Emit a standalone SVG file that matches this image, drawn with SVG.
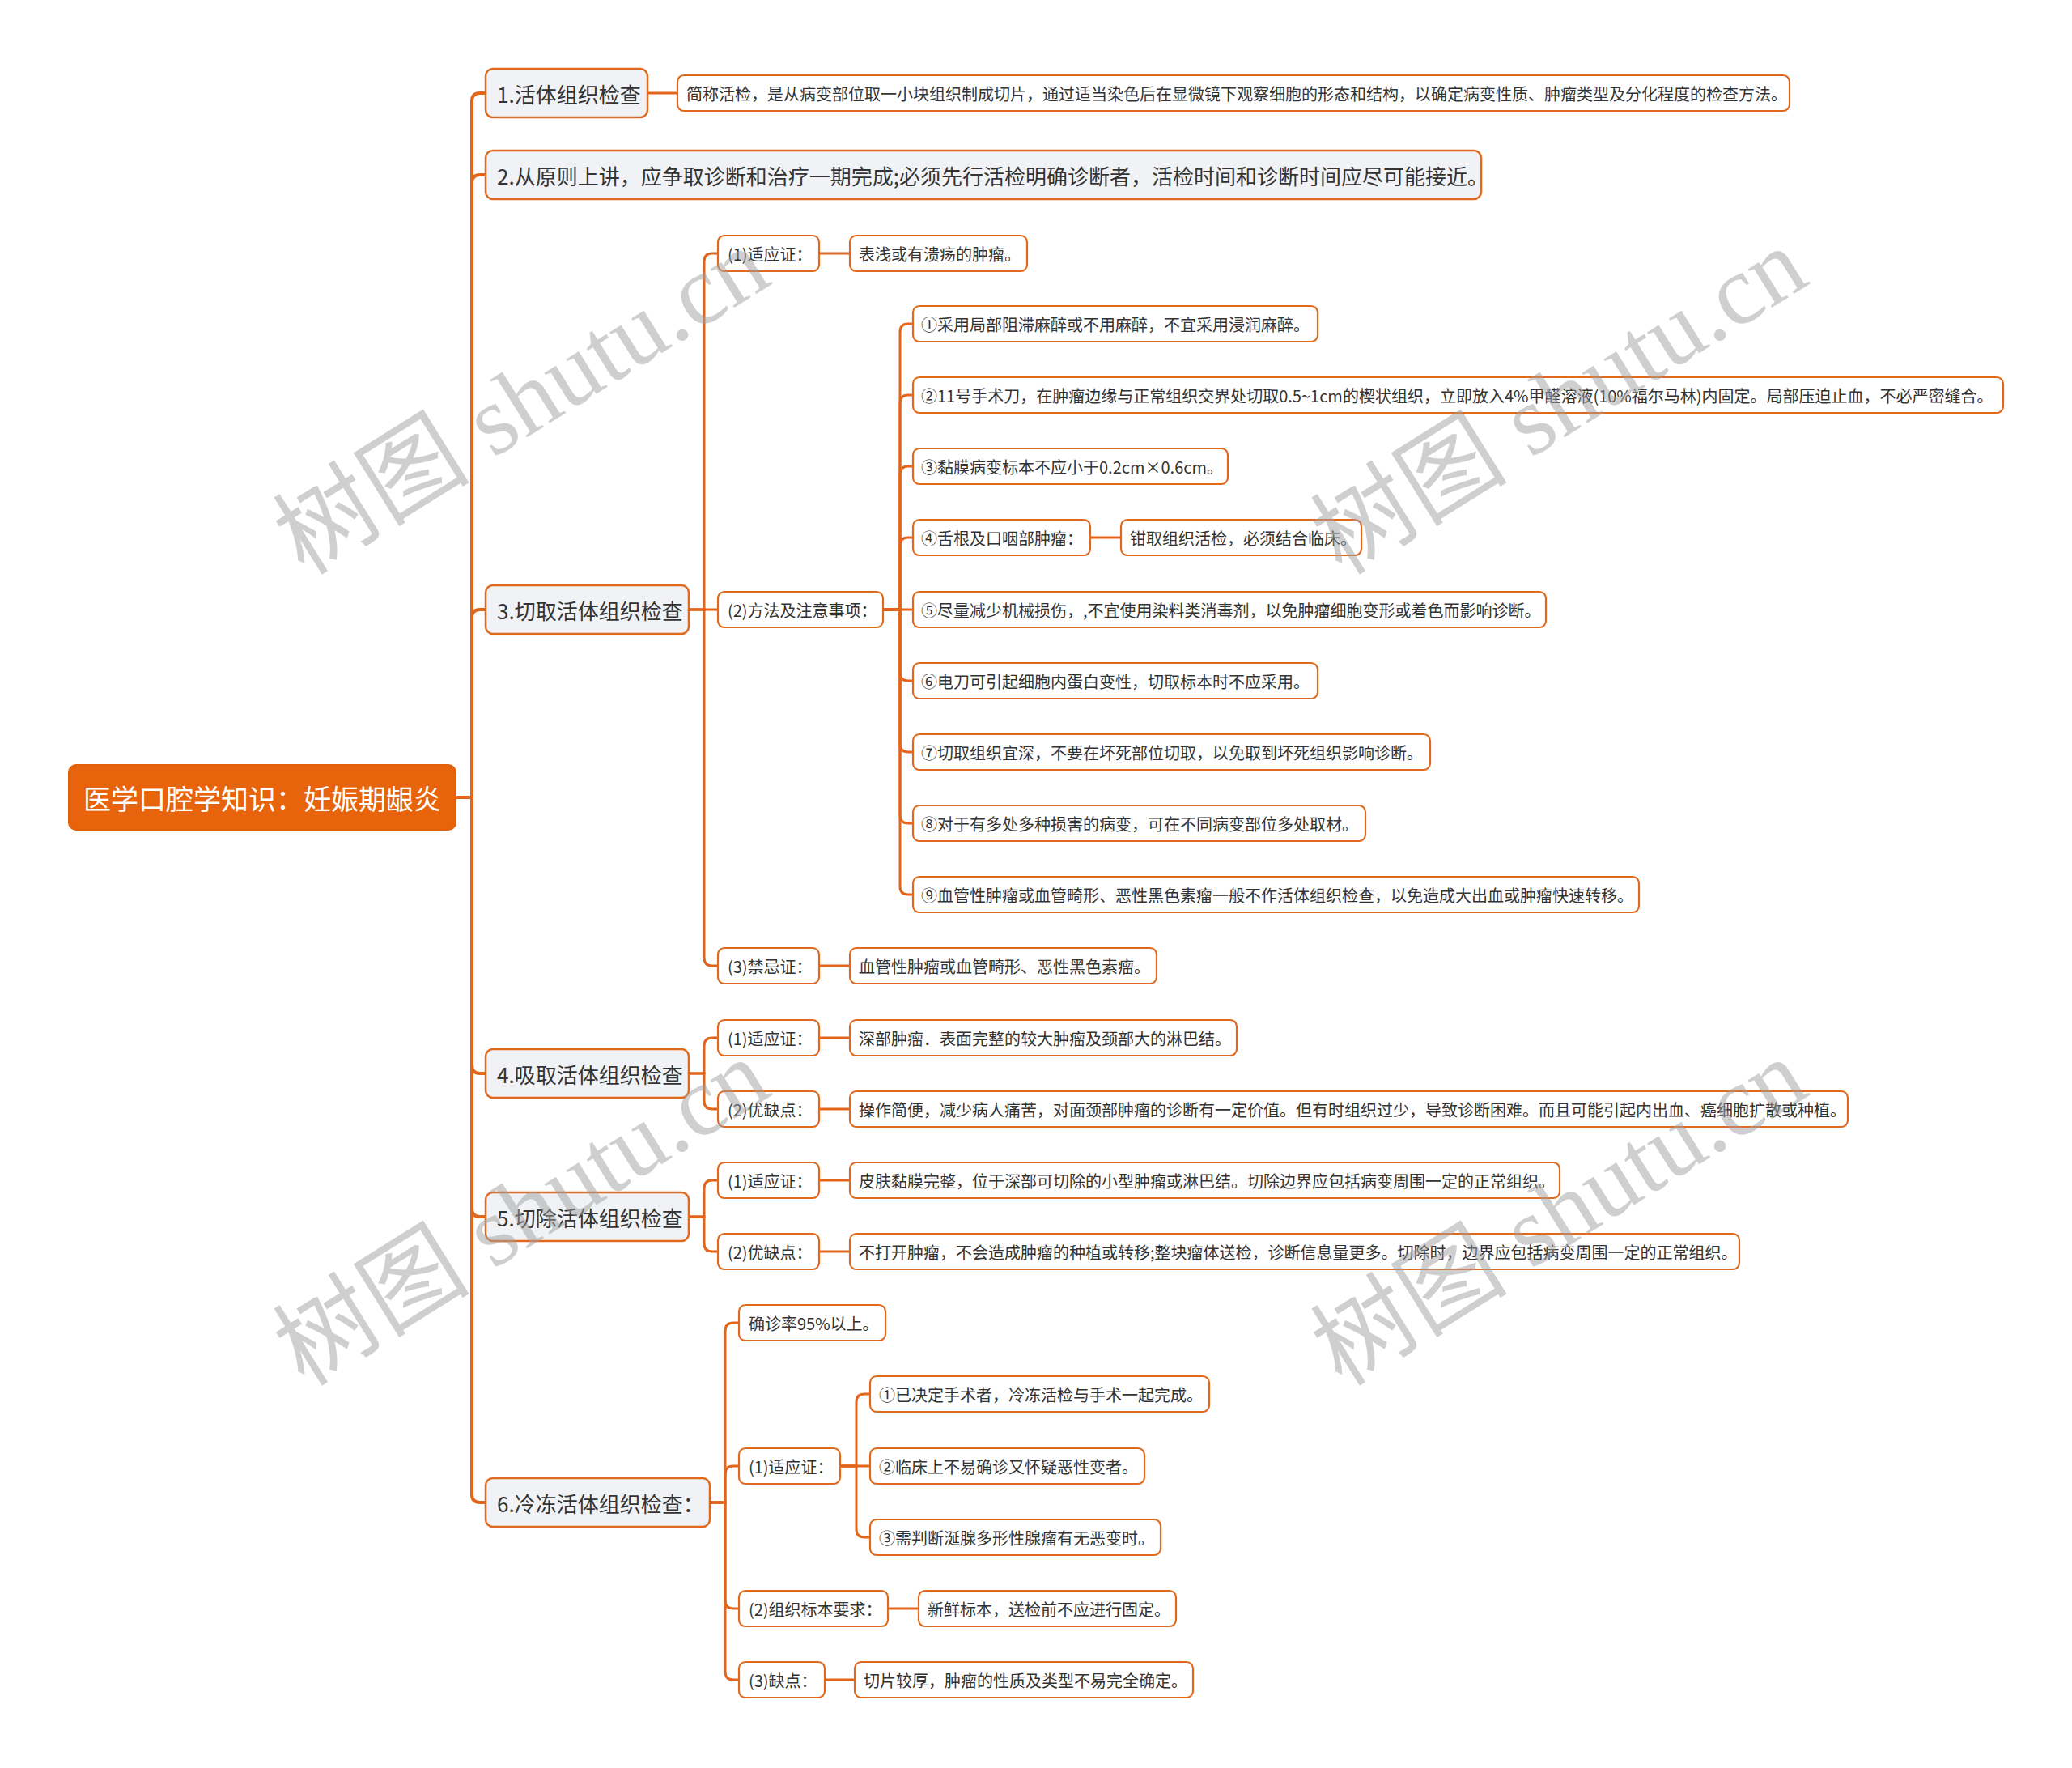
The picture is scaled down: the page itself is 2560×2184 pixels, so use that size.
<svg xmlns="http://www.w3.org/2000/svg" width="2560" height="2184" viewBox="0 0 2560 2184">
<style>
text{font-family:"Noto Sans CJK SC","Microsoft YaHei",sans-serif;fill:#333;dominant-baseline:central}
.wm{font-family:"Liberation Serif","Noto Sans CJK SC",serif;font-size:122px;fill:#a0a0a0;fill-opacity:0.5;dominant-baseline:alphabetic}
.root rect{fill:#e8640c;stroke:#e0600a;stroke-width:2}
.root text{fill:#fff;font-size:34px}
.l1 rect{fill:#f0f2f5;stroke:#e0691e;stroke-width:2.5}
.l1 text{font-size:26px}
.l2 rect{fill:#fff;stroke:#e0691e;stroke-width:2.2}
.l2 text{font-size:20px}
.conn path{fill:none;stroke:#e3651a;stroke-width:3;stroke-linecap:round}
.conn .trunk{stroke-width:4}
</style>
<rect width="2560" height="2184" fill="#fff"/>
<g id="connectors" class="conn">
<path class="trunk" d="M563 985 H583 V125 Q583 115 593 115 H600"/>
<path class="trunk" d="M563 985 H583 V226 Q583 216 593 216 H600"/>
<path class="trunk" d="M563 985 H583 V763 Q583 753 593 753 H600"/>
<path class="trunk" d="M563 985 H583 V1316 Q583 1326 593 1326 H600"/>
<path class="trunk" d="M563 985 H583 V1493 Q583 1503 593 1503 H600"/>
<path class="trunk" d="M563 985 H583 V1846 Q583 1856 593 1856 H600"/>
<path d="M800 115 H837"/>
<path d="M851 753 H870 V323 Q870 313 880 313 H887"/>
<path d="M851 753 H887"/>
<path d="M851 753 H870 V1183 Q870 1193 880 1193 H887"/>
<path d="M1012 313 H1050"/>
<path d="M1091 753 H1112 V410 Q1112 400 1122 400 H1128"/>
<path d="M1091 753 H1112 V498 Q1112 488 1122 488 H1128"/>
<path d="M1091 753 H1112 V586 Q1112 576 1122 576 H1128"/>
<path d="M1091 753 H1112 V674 Q1112 664 1122 664 H1128"/>
<path d="M1091 753 H1128"/>
<path d="M1091 753 H1112 V831 Q1112 841 1122 841 H1128"/>
<path d="M1091 753 H1112 V919 Q1112 929 1122 929 H1128"/>
<path d="M1091 753 H1112 V1007 Q1112 1017 1122 1017 H1128"/>
<path d="M1091 753 H1112 V1095 Q1112 1105 1122 1105 H1128"/>
<path d="M1347 664 H1385"/>
<path d="M1012 1193 H1050"/>
<path d="M851 1326 H870 V1292 Q870 1282 880 1282 H887"/>
<path d="M851 1326 H870 V1360 Q870 1370 880 1370 H887"/>
<path d="M1012 1282 H1050"/>
<path d="M1012 1370 H1050"/>
<path d="M851 1503 H870 V1468 Q870 1458 880 1458 H887"/>
<path d="M851 1503 H870 V1536 Q870 1546 880 1546 H887"/>
<path d="M1012 1458 H1050"/>
<path d="M1012 1546 H1050"/>
<path d="M877 1856 H896 V1644 Q896 1634 906 1634 H913"/>
<path d="M877 1856 H896 V1821 Q896 1811 906 1811 H913"/>
<path d="M877 1856 H896 V1977 Q896 1987 906 1987 H913"/>
<path d="M877 1856 H896 V2065 Q896 2075 906 2075 H913"/>
<path d="M1038 1811 H1058 V1732 Q1058 1722 1068 1722 H1075"/>
<path d="M1038 1811 H1075"/>
<path d="M1038 1811 H1058 V1889 Q1058 1899 1068 1899 H1075"/>
<path d="M1097 1987 H1135"/>
<path d="M1019 2075 H1056"/>
</g>
<g id="root" class="root"><rect x="85" y="945" width="478" height="80" rx="9"/><text x="103" y="985">医学口腔学知识：妊娠期龈炎</text></g>
<g id="n1" class="l1"><rect x="600" y="85" width="200" height="60" rx="9"/><text x="614" y="115">1.活体组织检查</text></g>
<g id="n1-1" class="l2"><rect x="837" y="93" width="1374" height="44" rx="8"/><text x="848" y="115">简称活检，是从病变部位取一小块组织制成切片，通过适当染色后在显微镜下观察细胞的形态和结构，以确定病变性质、肿瘤类型及分化程度的检查方法。</text></g>
<g id="n2" class="l1"><rect x="600" y="186" width="1230" height="60" rx="9"/><text x="614" y="216">2.从原则上讲，应争取诊断和治疗一期完成;必须先行活检明确诊断者，活检时间和诊断时间应尽可能接近。</text></g>
<g id="n3" class="l1"><rect x="600" y="723" width="251" height="60" rx="9"/><text x="614" y="753">3.切取活体组织检查</text></g>
<g id="n3-1" class="l2"><rect x="887" y="291" width="125" height="44" rx="8"/><text x="899" y="313">(1)适应证：</text></g>
<g id="n3-1-1" class="l2"><rect x="1050" y="291" width="219" height="44" rx="8"/><text x="1061" y="313">表浅或有溃疡的肿瘤。</text></g>
<g id="n3-2" class="l2"><rect x="887" y="731" width="204" height="44" rx="8"/><text x="899" y="753">(2)方法及注意事项：</text></g>
<g id="n3-2-1" class="l2"><rect x="1128" y="378" width="500" height="44" rx="8"/><text x="1138" y="400">①采用局部阻滞麻醉或不用麻醉，不宜采用浸润麻醉。</text></g>
<g id="n3-2-2" class="l2"><rect x="1128" y="466" width="1347" height="44" rx="8"/><text x="1138" y="488">②11号手术刀，在肿瘤边缘与正常组织交界处切取0.5~1cm的楔状组织，立即放入4%甲醛溶液(10%福尔马林)内固定。局部压迫止血，不必严密缝合。</text></g>
<g id="n3-2-3" class="l2"><rect x="1128" y="554" width="389" height="44" rx="8"/><text x="1138" y="576">③黏膜病变标本不应小于0.2cm×0.6cm。</text></g>
<g id="n3-2-4" class="l2"><rect x="1128" y="642" width="219" height="44" rx="8"/><text x="1138" y="664">④舌根及口咽部肿瘤：</text></g>
<g id="n3-2-4-1" class="l2"><rect x="1385" y="642" width="297" height="44" rx="8"/><text x="1396" y="664">钳取组织活检，必须结合临床。</text></g>
<g id="n3-2-5" class="l2"><rect x="1128" y="731" width="782" height="44" rx="8"/><text x="1138" y="753">⑤尽量减少机械损伤，,不宜使用染料类消毒剂，以免肿瘤细胞变形或着色而影响诊断。</text></g>
<g id="n3-2-6" class="l2"><rect x="1128" y="819" width="500" height="44" rx="8"/><text x="1138" y="841">⑥电刀可引起细胞内蛋白变性，切取标本时不应采用。</text></g>
<g id="n3-2-7" class="l2"><rect x="1128" y="907" width="639" height="44" rx="8"/><text x="1138" y="929">⑦切取组织宜深，不要在坏死部位切取，以免取到坏死组织影响诊断。</text></g>
<g id="n3-2-8" class="l2"><rect x="1128" y="995" width="559" height="44" rx="8"/><text x="1138" y="1017">⑧对于有多处多种损害的病变，可在不同病变部位多处取材。</text></g>
<g id="n3-2-9" class="l2"><rect x="1128" y="1083" width="897" height="44" rx="8"/><text x="1138" y="1105">⑨血管性肿瘤或血管畸形、恶性黑色素瘤一般不作活体组织检查，以免造成大出血或肿瘤快速转移。</text></g>
<g id="n3-3" class="l2"><rect x="887" y="1171" width="125" height="44" rx="8"/><text x="899" y="1193">(3)禁忌证：</text></g>
<g id="n3-3-1" class="l2"><rect x="1050" y="1171" width="379" height="44" rx="8"/><text x="1061" y="1193">血管性肿瘤或血管畸形、恶性黑色素瘤。</text></g>
<g id="n4" class="l1"><rect x="600" y="1296" width="251" height="60" rx="9"/><text x="614" y="1326">4.吸取活体组织检查</text></g>
<g id="n4-1" class="l2"><rect x="887" y="1260" width="125" height="44" rx="8"/><text x="899" y="1282">(1)适应证：</text></g>
<g id="n4-1-1" class="l2"><rect x="1050" y="1260" width="478" height="44" rx="8"/><text x="1061" y="1282">深部肿瘤．表面完整的较大肿瘤及颈部大的淋巴结。</text></g>
<g id="n4-2" class="l2"><rect x="887" y="1348" width="125" height="44" rx="8"/><text x="899" y="1370">(2)优缺点：</text></g>
<g id="n4-2-1" class="l2"><rect x="1050" y="1348" width="1233" height="44" rx="8"/><text x="1061" y="1370">操作简便，减少病人痛苦，对面颈部肿瘤的诊断有一定价值。但有时组织过少，导致诊断困难。而且可能引起内出血、癌细胞扩散或种植。</text></g>
<g id="n5" class="l1"><rect x="600" y="1473" width="251" height="60" rx="9"/><text x="614" y="1503">5.切除活体组织检查</text></g>
<g id="n5-1" class="l2"><rect x="887" y="1436" width="125" height="44" rx="8"/><text x="899" y="1458">(1)适应证：</text></g>
<g id="n5-1-1" class="l2"><rect x="1050" y="1436" width="877" height="44" rx="8"/><text x="1061" y="1458">皮肤黏膜完整，位于深部可切除的小型肿瘤或淋巴结。切除边界应包括病变周围一定的正常组织。</text></g>
<g id="n5-2" class="l2"><rect x="887" y="1524" width="125" height="44" rx="8"/><text x="899" y="1546">(2)优缺点：</text></g>
<g id="n5-2-1" class="l2"><rect x="1050" y="1524" width="1099" height="44" rx="8"/><text x="1061" y="1546">不打开肿瘤，不会造成肿瘤的种植或转移;整块瘤体送检，诊断信息量更多。切除时，边界应包括病变周围一定的正常组织。</text></g>
<g id="n6" class="l1"><rect x="600" y="1826" width="277" height="60" rx="9"/><text x="614" y="1856">6.冷冻活体组织检查：</text></g>
<g id="n6-0" class="l2"><rect x="913" y="1612" width="181" height="44" rx="8"/><text x="925" y="1634">确诊率95%以上。</text></g>
<g id="n6-1" class="l2"><rect x="913" y="1789" width="125" height="44" rx="8"/><text x="925" y="1811">(1)适应证：</text></g>
<g id="n6-1-1" class="l2"><rect x="1075" y="1700" width="419" height="44" rx="8"/><text x="1086" y="1722">①已决定手术者，冷冻活检与手术一起完成。</text></g>
<g id="n6-1-2" class="l2"><rect x="1075" y="1789" width="339" height="44" rx="8"/><text x="1086" y="1811">②临床上不易确诊又怀疑恶性变者。</text></g>
<g id="n6-1-3" class="l2"><rect x="1075" y="1877" width="359" height="44" rx="8"/><text x="1086" y="1899">③需判断涎腺多形性腺瘤有无恶变时。</text></g>
<g id="n6-2" class="l2"><rect x="913" y="1965" width="184" height="44" rx="8"/><text x="925" y="1987">(2)组织标本要求：</text></g>
<g id="n6-2-1" class="l2"><rect x="1135" y="1965" width="318" height="44" rx="8"/><text x="1146" y="1987">新鲜标本，送检前不应进行固定。</text></g>
<g id="n6-3" class="l2"><rect x="913" y="2053" width="106" height="44" rx="8"/><text x="925" y="2075">(3)缺点：</text></g>
<g id="n6-3-1" class="l2"><rect x="1056" y="2053" width="418" height="44" rx="8"/><text x="1067" y="2075">切片较厚，肿瘤的性质及类型不易完全确定。</text></g>
<g id="watermarks">
<text class="wm" transform="translate(376,712) rotate(-32)">树图 shutu.cn</text>
<text class="wm" transform="translate(1658,712) rotate(-32)">树图 shutu.cn</text>
<text class="wm" transform="translate(376,1714) rotate(-32)">树图 shutu.cn</text>
<text class="wm" transform="translate(1658,1714) rotate(-32)">树图 shutu.cn</text>
</g>
</svg>
